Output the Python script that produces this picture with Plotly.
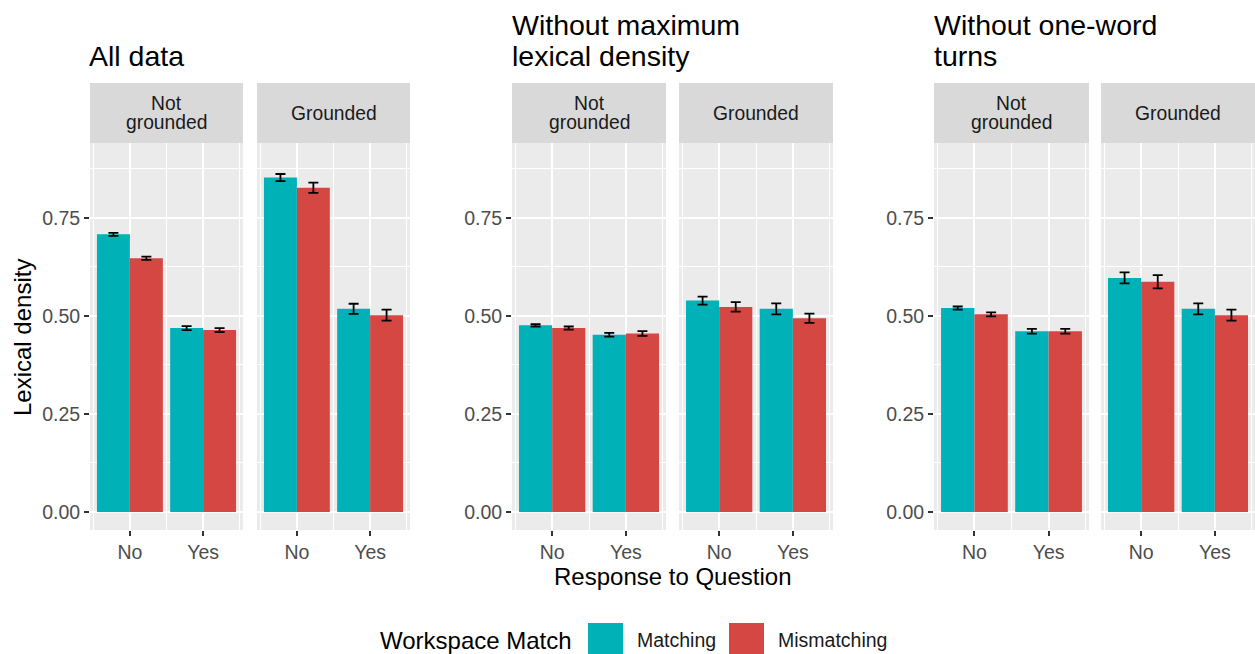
import plotly.graph_objects as go

# ---- data -------------------------------------------------------------
panel_titles = ["All data", "Without maximum<br>lexical density", "Without one-word<br>turns"]
facet_labels = ["Not<br>grounded", "Grounded"]
responses = ["No", "Yes"]
series_names = ["Matching", "Mismatching"]

# order inside each list: Not grounded-No, Not grounded-Yes, Grounded-No, Grounded-Yes
all_match = [0.708, 0.469, 0.853, 0.518]
all_mismatch = [0.647, 0.464, 0.827, 0.502]
all_match_se = [0.004, 0.005, 0.009, 0.013]
all_mismatch_se = [0.004, 0.005, 0.013, 0.014]

nomax_match = [0.476, 0.452, 0.539, 0.518]
nomax_mismatch = [0.469, 0.455, 0.523, 0.494]
nomax_match_se = [0.003, 0.005, 0.010, 0.014]
nomax_mismatch_se = [0.004, 0.006, 0.012, 0.012]

noone_match = [0.520, 0.461, 0.597, 0.518]
noone_mismatch = [0.504, 0.461, 0.587, 0.502]
noone_match_se = [0.004, 0.006, 0.014, 0.014]
noone_mismatch_se = [0.005, 0.006, 0.017, 0.014]

y_ticks = [0, 0.25, 0.5, 0.75]
y_tick_labels = ["0.00", "0.25", "0.50", "0.75"]

# ---- style ------------------------------------------------------------
W, H = 1255, 654
FONT = "Liberation Sans, Arial, Helvetica, sans-serif"
COLORS = ["#00B1B8", "#D44743"]
PANEL_BG = "#EBEBEB"
STRIP_BG = "#D9D9D9"
TICK_TXT = "#4D4D4D"

# pixel extents of the six panels
panel_px = [(90, 243), (257, 410), (512, 666), (679, 833), (934, 1089), (1101, 1255)]
panel_top, panel_bottom = 143, 530
strip_top = 83
title_x_px = [87, 510, 932]
title_line_y = [25, 56]        # centre of first / last title line
strip_line_y = [103, 122]      # centre of the two strip-label lines


def px_x(v):
    return v / W


def px_y(v):
    return 1 - v / H


groups = [
    (all_match, all_mismatch, all_match_se, all_mismatch_se),
    (nomax_match, nomax_mismatch, nomax_match_se, nomax_mismatch_se),
    (noone_match, noone_mismatch, noone_match_se, noone_mismatch_se),
]

fig = go.Figure()
x_pos = [1, 2]

layout_axes = {}
shapes = []
annotations = []

for g, (m, mm, m_se, mm_se) in enumerate(groups):
    for f in range(2):
        k = g * 2 + f + 1
        xa = "x" if k == 1 else f"x{k}"
        ya = "y" if k == 1 else f"y{k}"
        sl = slice(f * 2, f * 2 + 2)
        for s, (vals, se) in enumerate([(m, m_se), (mm, mm_se)]):
            fig.add_trace(go.Bar(
                x=x_pos, y=vals[sl], name=series_names[s],
                marker=dict(color=COLORS[s], line=dict(width=0)),
                error_y=dict(type="data", array=se[sl], color="black",
                             thickness=1.8, width=5),
                xaxis=xa, yaxis=ya, showlegend=False,
            ))
        x0, x1 = panel_px[k - 1]
        first = f == 0
        layout_axes[f"xaxis{'' if k == 1 else k}"] = dict(
            domain=[px_x(x0), px_x(x1)], anchor=ya,
            range=[0.455, 2.545], tickmode="array", tickvals=x_pos, ticktext=responses,
            ticks="outside", ticklen=5, tickwidth=1.5, tickcolor="#333333",
            showgrid=True, gridcolor="white", gridwidth=1.6, zeroline=False,
            minor=dict(tickmode="array", tickvals=[0.5, 1.5, 2.5], showgrid=True,
                       gridcolor="white", gridwidth=1.0, ticks=""),
            tickfont=dict(size=19.5, color=TICK_TXT, family=FONT),
            fixedrange=True,
        )
        layout_axes[f"yaxis{'' if k == 1 else k}"] = dict(
            domain=[px_y(panel_bottom), px_y(panel_top)], anchor=xa,
            range=[-0.046, 0.941], tickmode="array", tickvals=y_ticks, ticktext=y_tick_labels,
            ticks="outside" if first else "", ticklen=5, tickwidth=1.5, tickcolor="#333333",
            showticklabels=first, showgrid=True, gridcolor="white", gridwidth=1.6,
            zeroline=False,
            minor=dict(tickmode="array", tickvals=[0.125, 0.375, 0.625, 0.875],
                       showgrid=True, gridcolor="white", gridwidth=1.0, ticks=""),
            tickfont=dict(size=19.5, color=TICK_TXT, family=FONT),
            fixedrange=True,
        )
        # facet strip
        shapes.append(dict(type="rect", xref=f"{xa} domain", yref="paper",
                           x0=0, x1=1, y0=px_y(panel_top), y1=px_y(strip_top),
                           fillcolor=STRIP_BG, line=dict(width=0), layer="below"))
        lines = facet_labels[f].split("<br>")
        ys = strip_line_y if len(lines) == 2 else [(strip_top + panel_top) / 2]
        for line, ly in zip(lines, ys):
            annotations.append(dict(xref=f"{xa} domain", yref="paper", x=0.5,
                                    y=px_y(ly), text=line,
                                    showarrow=False, xanchor="center", yanchor="middle",
                                    font=dict(size=19.3, color="#1A1A1A", family=FONT)))
    # group title, one annotation per line for tight line spacing
    t_lines = panel_titles[g].split("<br>")
    t_ys = title_line_y[-len(t_lines):]
    for line, ly in zip(t_lines, t_ys):
        annotations.append(dict(xref="paper", yref="paper", x=px_x(title_x_px[g]), y=px_y(ly),
                                text=line, showarrow=False, xanchor="left",
                                yanchor="middle", align="left",
                                font=dict(size=28.5, color="black", family=FONT)))

# axis titles
annotations.append(dict(xref="paper", yref="paper", x=px_x(22), y=px_y(338),
                        text="Lexical density", textangle=-90, showarrow=False,
                        xanchor="center", yanchor="middle",
                        font=dict(size=24, color="black", family=FONT)))
annotations.append(dict(xref="paper", yref="paper", x=px_x(672), y=px_y(576),
                        text="Response to Question", showarrow=False,
                        xanchor="center", yanchor="middle",
                        font=dict(size=24, color="black", family=FONT)))

# legend
annotations.append(dict(xref="paper", yref="paper", x=px_x(378), y=px_y(640),
                        text="Workspace Match", showarrow=False, xanchor="left",
                        yanchor="middle", font=dict(size=24, color="black", family=FONT)))
legend_keys = [(588, 623, 635), (729, 764, 776)]
for s, (k0, k1, tx) in enumerate(legend_keys):
    shapes.append(dict(type="rect", xref="paper", yref="paper",
                       x0=px_x(k0), x1=px_x(k1), y0=px_y(658), y1=px_y(623),
                       fillcolor=COLORS[s], line=dict(width=0)))
    annotations.append(dict(xref="paper", yref="paper", x=px_x(tx), y=px_y(640),
                            text=series_names[s], showarrow=False, xanchor="left",
                            yanchor="middle", font=dict(size=19.5, color="#1A1A1A", family=FONT)))

fig.update_layout(
    width=W, height=H, margin=dict(l=0, r=0, t=0, b=0),
    paper_bgcolor="white", plot_bgcolor=PANEL_BG,
    barmode="group", bargap=0.1, bargroupgap=0,
    font=dict(family=FONT),
    shapes=shapes, annotations=annotations, showlegend=False,
    **layout_axes,
)

fig.write_html("out.html")
